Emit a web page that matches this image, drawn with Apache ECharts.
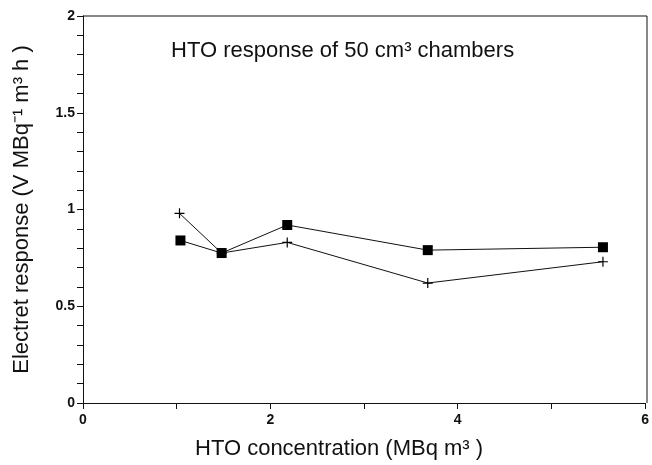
<!DOCTYPE html>
<html>
<head>
<meta charset="utf-8">
<script src="https://cdn.jsdelivr.net/npm/echarts@6/dist/echarts.min.js"></script>
<style>
  html, body { margin: 0; padding: 0; background: #fff; }
  #chart { width: 652px; height: 465px; }
</style>
</head>
<body>
<div id="chart"></div>
<script>
// HTO concentration (MBq m-3)
const concSquare = [1.04, 1.48, 2.18, 3.68, 5.55];
const respSquare = [0.84, 0.775, 0.92, 0.79, 0.805];
const concPlus = [1.03, 1.48, 2.18, 3.68, 5.55];
const respPlus = [0.98, 0.775, 0.83, 0.62, 0.73];

const pairs = (xs, ys) => xs.map((x, i) => [x, ys[i]]);
const plusPath = 'path://M4.4,0h1.2v10h-1.2zM0,4.4h10v1.2h-10z';

const chart = echarts.init(document.getElementById('chart'));

const axisCommon = {
    axisLine: {show: true, onZero: false, lineStyle: {color: '#111', width: 1}},
    axisTick: {show: true, inside: false, length: 6, lineStyle: {color: '#111'}},
    splitLine: {show: false},
    axisLabel: {fontFamily: 'Liberation Sans', fontWeight: 'bold', fontSize: 14, color: '#111'}
};

const option = {
    animation: false,
    backgroundColor: '#fff',
    title: {
        text: 'HTO response of 50 cm³ chambers',
        left: 166,
        top: 35,
        textStyle: {fontFamily: 'Liberation Sans', fontWeight: 'normal', fontSize: 22, color: '#111'}
    },
    grid: {left: 83, right: 5, top: 16, bottom: 62},
    xAxis: Object.assign({}, axisCommon, {
        type: 'value',
        min: 0,
        max: 6,
        interval: 1,
        name: 'HTO concentration (MBq m³ )',
        nameLocation: 'middle',
        nameGap: 35,
        nameTextStyle: {fontFamily: 'Liberation Sans', fontSize: 22, color: '#111', padding: [0, 50, 0, 0]},
        axisLabel: Object.assign({}, axisCommon.axisLabel, {
            margin: 10,
            formatter: v => (v % 2 === 0 ? String(v) : '')
        })
    }),
    yAxis: Object.assign({}, axisCommon, {
        type: 'value',
        min: 0,
        max: 2,
        interval: 0.1,
        name: 'Electret response (V MBq⁻¹ m³ h )',
        nameLocation: 'middle',
        nameGap: 50,
        nameTextStyle: {fontFamily: 'Liberation Sans', fontSize: 22, color: '#111'},
        axisLabel: Object.assign({}, axisCommon.axisLabel, {
            margin: 8,
            formatter: v => {
                const r = Math.round(v * 10) / 10;
                return Math.round(r * 10) % 5 === 0 ? String(r) : '';
            }
        })
    }),
    series: [
        {
            name: 'square',
            type: 'line',
            data: pairs(concSquare, respSquare),
            symbol: 'rect',
            symbolSize: 10,
            itemStyle: {color: '#000'},
            lineStyle: {color: '#111', width: 1}
        },
        {
            name: 'plus',
            type: 'line',
            data: pairs(concPlus, respPlus),
            symbol: plusPath,
            symbolSize: 10,
            itemStyle: {color: '#000'},
            lineStyle: {color: '#111', width: 1}
        }
    ],
    graphic: [
        // frame on top and right side
        {type: 'line', shape: {x1: 83, y1: 16, x2: 647, y2: 16}, style: {stroke: '#111', lineWidth: 1}},
        {type: 'line', shape: {x1: 647, y1: 16, x2: 647, y2: 403}, style: {stroke: '#111', lineWidth: 1}}
    ]
};

chart.setOption(option);
</script>
</body>
</html>
